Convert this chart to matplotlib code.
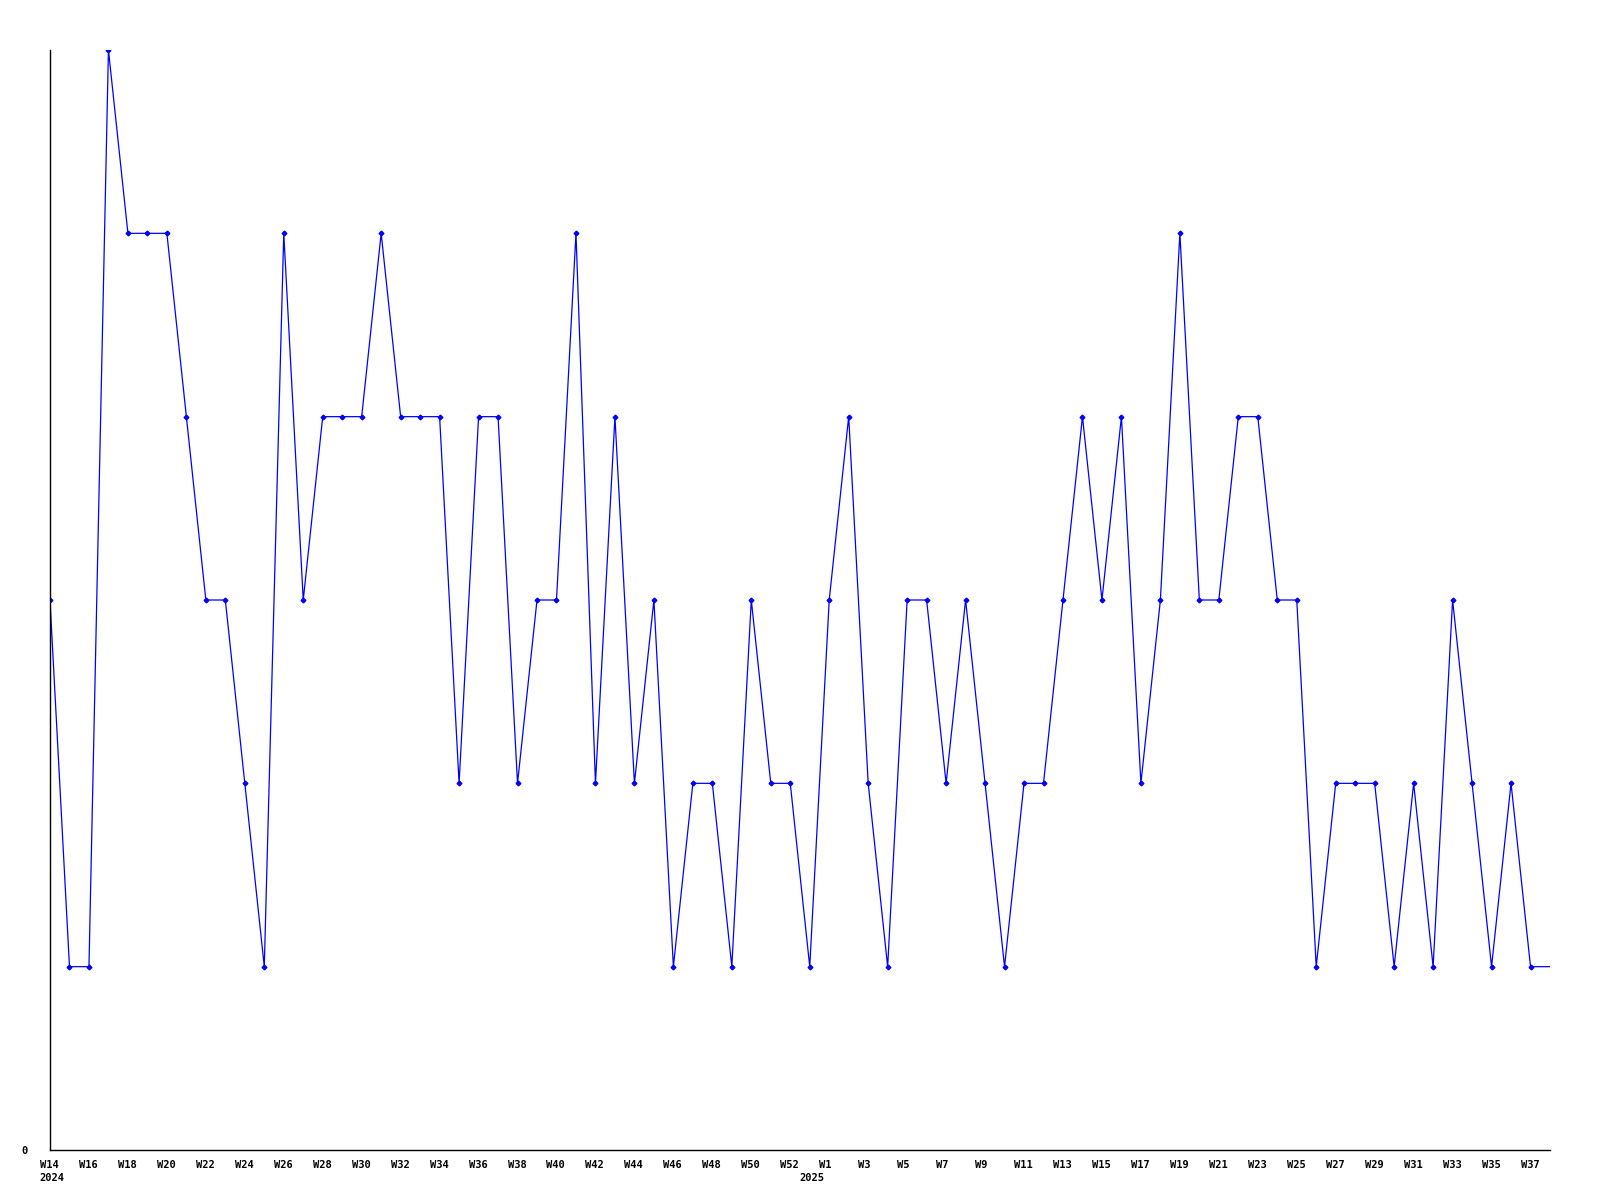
import matplotlib
matplotlib.use("Agg")
import matplotlib.pyplot as plt
from matplotlib.transforms import ScaledTranslation

# week numbers, 2024 W14 .. 2025 W38 (one unlabeled week at the year change)
weeks_2024 = list(range(14, 53))
weeks_2025 = [0] + list(range(1, 39))
years = ["2024", "2025"]

# weekly values (last week W38 only continues the line, no marker)
values = [3, 1, 1, 6, 5, 5, 5, 4, 3, 3, 2, 1, 5, 3, 4, 4, 4, 5, 4, 4,
          4, 2, 4, 4, 2, 3, 3, 5, 2, 4, 2, 3, 1, 2, 2, 1, 3, 2, 2, 1,
          3, 4, 2, 1, 3, 3, 2, 3, 2, 1, 2, 2, 3, 4, 3, 4, 2, 3, 5, 3,
          3, 4, 4, 3, 3, 1, 2, 2, 2, 1, 2, 1, 3, 2, 1, 2, 1, 1]

labels = [f"W{w}" for w in weeks_2024] + [f"W{w}" for w in weeks_2025]
x = list(range(len(values)))

fig = plt.figure(figsize=(16, 12), dpi=100)
ax = fig.add_axes([50 / 1600, 50 / 1200, 1500 / 1600, 1100 / 1200])

ax.plot(x, values, color="#0000ff", linewidth=0.9,
        marker="D", markersize=2.4, markevery=list(range(len(values) - 1)))

ax.set_xlim(0, len(values) - 1)
ax.set_ylim(0, 6)

for s in ["top", "right"]:
    ax.spines[s].set_visible(False)
ax.spines["left"].set_linewidth(1.0)
ax.spines["bottom"].set_linewidth(1.0)

font = dict(family="DejaVu Sans Mono", weight="bold", size=7.5)

ax.set_yticks([0])
ax.set_yticklabels(["0"], **font)
ax.tick_params(axis="y", length=0, pad=16)

tick_idx = [i for i in x if i % 2 == 0 and i != len(values) - 1 or i == 40]
tick_idx = [i for i in tick_idx if i != 39]
ax.set_xticks(tick_idx)
ax.set_xticklabels([labels[i] for i in tick_idx], **font)
ax.tick_params(axis="x", length=0, pad=7)
shift = ScaledTranslation(-10 / 100, 0, fig.dpi_scale_trans)
for lab in ax.get_xticklabels():
    lab.set_ha("left")
    lab.set_transform(lab.get_transform() + shift)

# year labels under the first week of each year
for yr, idx in zip(years, [0, 39]):
    ax.annotate(yr, xy=(idx, 0), xycoords=("data", "axes fraction"),
                xytext=(-7.5, -16.5), textcoords="offset points",
                ha="left", va="top", **font)

fig.savefig("out.png", dpi=100)
